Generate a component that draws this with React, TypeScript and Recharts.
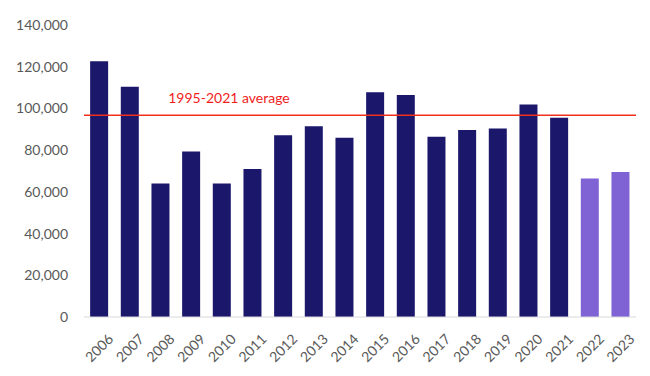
import { BarChart, Bar, XAxis, YAxis, Cell, ReferenceLine } from 'recharts';

const years = [
  '2006', '2007', '2008', '2009', '2010', '2011', '2012', '2013', '2014',
  '2015', '2016', '2017', '2018', '2019', '2020', '2021', '2022', '2023',
];
const values = [
  122600, 110400, 64000, 79400, 64000, 71000, 87200, 91500, 86000,
  107800, 106400, 86400, 89600, 90400, 101900, 95500, 66400, 69500,
];
const forecastYears = ['2022', '2023'];
const average = 96700;
const averageLabel = '1995-2021 average';
const yTicks = [0, 20000, 40000, 60000, 80000, 100000, 120000, 140000];

const NAVY = '#1b176b';
const PURPLE = '#7f63d5';
const FONT = 'Lato, "Open Sans", sans-serif';

const data = years.map((year, i) => ({ year, value: values[i] }));

function YearTick(props: any) {
  const { x, y, payload } = props;
  return (
    <text
      x={x + 8}
      y={y + 8}
      transform={`rotate(-45 ${x + 8} ${y + 8})`}
      textAnchor="end"
      dy="0.7em"
      fill="#595959"
      fontSize={14}
      fontFamily={FONT}
    >
      {payload.value}
    </text>
  );
}

function AvgLabel(props: any) {
  const { viewBox } = props;
  return (
    <text
      x={viewBox.x + 145}
      y={viewBox.y - 12}
      textAnchor="middle"
      fill="#f01d1d"
      fontSize={14}
      fontFamily={FONT}
    >
      {averageLabel}
    </text>
  );
}

export default function App() {
  return (
    <div style={{ position: 'absolute', left: 0, top: 0, background: '#fff' }}>
      <BarChart
        width={650}
        height={376}
        data={data}
        margin={{ top: 25, right: 14, bottom: 29, left: 0 }}
        barCategoryGap="20%"
      >
        <XAxis
          dataKey="year"
          height={30}
          axisLine={{ stroke: '#d9d9d9' }}
          tickLine={false}
          interval={0}
          tick={<YearTick />}
        />
        <YAxis
          width={84}
          domain={[0, 140000]}
          ticks={yTicks}
          axisLine={false}
          tickLine={false}
          tickSize={0}
          tickMargin={16}
          tickFormatter={(v) => Number(v).toLocaleString('en-US')}
          tick={{ fill: '#595959', fontSize: 14, fontFamily: FONT }}
        />
        <Bar dataKey="value" isAnimationActive={false}>
          {data.map((d) => (
            <Cell key={d.year} fill={forecastYears.includes(d.year) ? PURPLE : NAVY} />
          ))}
        </Bar>
        <ReferenceLine
          y={average}
          stroke="#f0301d"
          strokeWidth={1.5}
          label={<AvgLabel />}
        />
      </BarChart>
    </div>
  );
}
